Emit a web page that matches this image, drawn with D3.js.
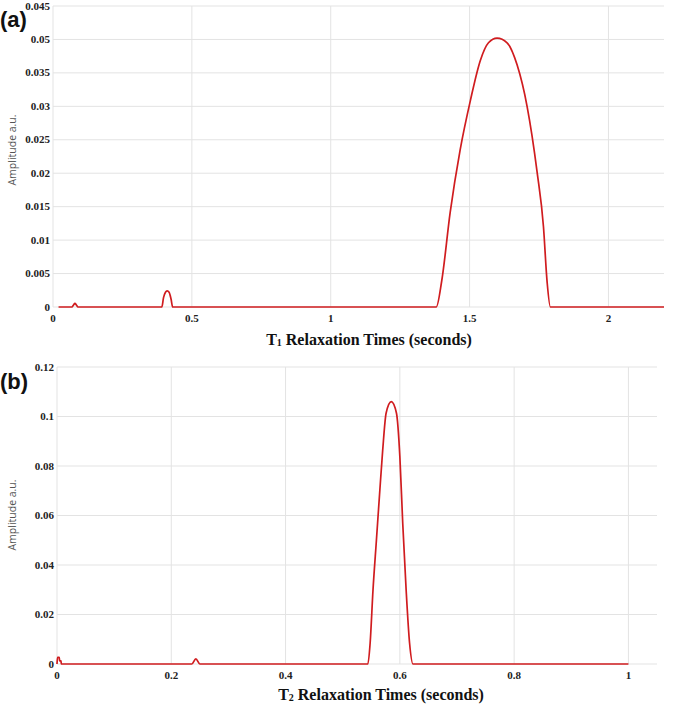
<!DOCTYPE html>
<html>
<head>
<meta charset="utf-8">
<script src="https://d3js.org/d3.v7.min.js"></script>
<style>
body { margin: 0; background: #fff; }
.grid line { stroke: #e3e3e3; stroke-width: 1; }
.tick-lab { font-family: "Liberation Serif", serif; font-weight: bold; font-size: 11px; fill: #222; }
.xtitle { font-family: "Liberation Serif", serif; font-weight: bold; font-size: 16px; fill: #111; }
.ytitle { font-family: "Open Sans", sans-serif; font-size: 10.5px; fill: #555; }
.panel { font-family: "Liberation Sans", sans-serif; font-weight: bold; font-size: 22px; fill: #111; }
</style>
</head>
<body>
<svg id="chart" width="677" height="705"></svg>
<script>
// panel (a) T1 distribution
var t1Times = [0.02, 0.068, 0.074, 0.079, 0.084, 0.09, 0.392, 0.398, 0.405, 0.411, 0.418, 0.425, 0.431,
  1.38, 1.40, 1.43, 1.466, 1.503, 1.539, 1.568, 1.599, 1.635, 1.671, 1.707, 1.743, 1.766, 1.779, 1.791, 2.2];
var t1Amps = [0, 0, 0.0003, 0.00055, 0.0003, 0, 0, 0.0014, 0.0022, 0.0024, 0.0022, 0.0012, 0,
  0, 0.004, 0.0141, 0.0235, 0.0309, 0.0369, 0.0395, 0.0402, 0.0395, 0.0362, 0.0300, 0.0202, 0.0120, 0.0038, 0, 0];
var t1XTicks = [0, 0.5, 1, 1.5, 2];
var t1XLabels = ["0", "0.5", "1", "1.5", "2"];
var t1YTicks = [0, 0.005, 0.01, 0.015, 0.02, 0.025, 0.03, 0.035, 0.04, 0.045];
var t1YLabels = ["0", "0.005", "0.01", "0.015", "0.02", "0.025", "0.03", "0.035", "0.05", "0.045"];

// panel (b) T2 distribution
var t2Times = [0, 0.001, 0.004, 0.0045, 0.007, 0.0075, 0.236, 0.243, 0.25,
  0.544, 0.548, 0.553, 0.559, 0.565, 0.570, 0.576, 0.585, 0.594, 0.600, 0.605, 0.611, 0.617, 0.623, 1.0];
var t2Amps = [0, 0.0027, 0.0027, 0.0013, 0.0013, 0, 0, 0.0021, 0,
  0, 0.0085, 0.0299, 0.0501, 0.0703, 0.0865, 0.1014, 0.106, 0.1014, 0.0838, 0.057, 0.0299, 0.0085, 0, 0];
var t2XTicks = [0, 0.2, 0.4, 0.6, 0.8, 1];
var t2XLabels = ["0", "0.2", "0.4", "0.6", "0.8", "1"];
var t2YTicks = [0, 0.02, 0.04, 0.06, 0.08, 0.1, 0.12];
var t2YLabels = ["0", "0.02", "0.04", "0.06", "0.08", "0.1", "0.12"];

var svg = d3.select("#chart");

function drawPanel(opt) {
  var g = svg.append("g");
  var x = d3.scaleLinear().domain(opt.xDomain).range([opt.left, opt.right]);
  var y = d3.scaleLinear().domain(opt.yDomain).range([opt.bottom, opt.top]);

  var grid = g.append("g").attr("class", "grid");
  grid.selectAll("line.h").data(opt.yTicks).enter().append("line")
    .attr("x1", opt.left).attr("x2", opt.right)
    .attr("y1", function (d) { return y(d); }).attr("y2", function (d) { return y(d); });
  grid.selectAll("line.v").data(opt.xTicks).enter().append("line")
    .attr("y1", opt.top).attr("y2", opt.bottom)
    .attr("x1", function (d) { return x(d); }).attr("x2", function (d) { return x(d); });

  g.selectAll("text.yl").data(opt.yTicks).enter().append("text")
    .attr("class", "tick-lab").attr("text-anchor", "end")
    .attr("x", opt.left - 3).attr("y", function (d) { return y(d) + 3.5; })
    .text(function (d, i) { return opt.yLabels[i]; });
  g.selectAll("text.xl").data(opt.xTicks).enter().append("text")
    .attr("class", "tick-lab").attr("text-anchor", "middle")
    .attr("x", function (d) { return x(d); }).attr("y", opt.bottom + 15)
    .text(function (d, i) { return opt.xLabels[i]; });

  var pts = opt.times.map(function (t, i) { return [t, opt.amps[i]]; });
  var line = d3.line().x(function (d) { return x(d[0]); }).y(function (d) { return y(d[1]); })
    .curve(d3.curveMonotoneX);
  g.append("path").datum(pts).attr("d", line)
    .attr("fill", "none").attr("stroke", "#d01c1f").attr("stroke-width", 1.7);

  var xt = g.append("text").attr("class", "xtitle").attr("text-anchor", "middle")
    .attr("x", opt.titleX).attr("y", opt.titleY);
  xt.append("tspan").text("T");
  xt.append("tspan").attr("font-size", "10px").attr("dy", 1).text(opt.sub);
  xt.append("tspan").attr("dy", -1).text(" Relaxation Times (seconds)");

  g.append("text").attr("class", "ytitle").attr("text-anchor", "middle")
    .attr("transform", "translate(16," + opt.yTitleY + ") rotate(-90)")
    .text("Amplitude a.u.");

  g.append("text").attr("class", "panel").attr("x", 0).attr("y", opt.panelY).text(opt.panel);
}

drawPanel({
  times: t1Times, amps: t1Amps, xDomain: [0, 2.2], yDomain: [0, 0.045],
  xTicks: t1XTicks, xLabels: t1XLabels, yTicks: t1YTicks, yLabels: t1YLabels,
  left: 53, right: 664, top: 6, bottom: 307,
  titleX: 369, titleY: 345, sub: "1", yTitleY: 150, panel: "(a)", panelY: 27
});

drawPanel({
  times: t2Times, amps: t2Amps, xDomain: [0, 1.05], yDomain: [0, 0.12],
  xTicks: t2XTicks, xLabels: t2XLabels, yTicks: t2YTicks, yLabels: t2YLabels,
  left: 57, right: 657, top: 367, bottom: 664,
  titleX: 381, titleY: 700, sub: "2", yTitleY: 515, panel: "(b)", panelY: 389
});
</script>
</body>
</html>
